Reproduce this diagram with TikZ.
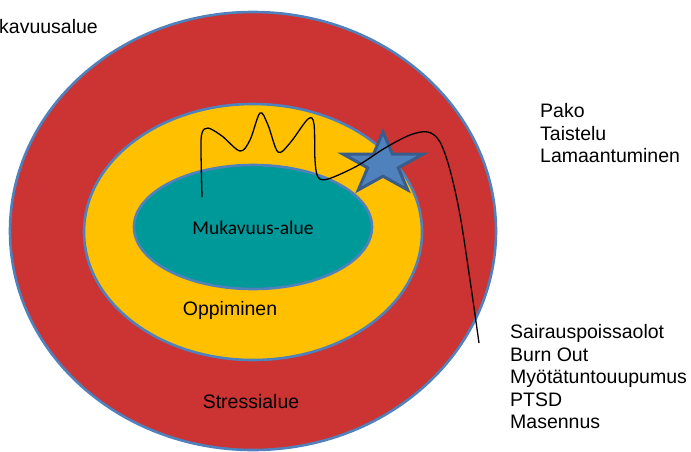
\documentclass[tikz,border=0pt]{standalone}
\usepackage{fontspec}
\setmainfont{Liberation Sans}
\newfontfamily\calibrifont{Carlito}
\usepackage{xcolor}
\usetikzlibrary{positioning}

\definecolor{zonered}{RGB}{204,51,51}
\definecolor{zoneyellow}{RGB}{255,192,0}
\definecolor{zoneteal}{RGB}{0,153,153}
\definecolor{zoneedge}{RGB}{79,129,189}
\definecolor{stardark}{RGB}{56,93,138}

\begin{document}
\begin{tikzpicture}[
    x=1pt, y=-1pt,
    zone/.style={draw=zoneedge, line width=2.6pt},
    lbl/.style={inner sep=0pt, font=\fontsize{19.5}{22.5}\selectfont},
    starshape/.style={fill=zoneedge, draw=stardark, line width=3pt, line join=miter},
    path/.style={black, line width=1.3pt}
]
\useasboundingbox (0,0) rectangle (691,451);

% zones
\draw[zone, fill=zonered] (253,231) ellipse [x radius=243, y radius=219];
\draw[zone, fill=zoneyellow] (253,232) ellipse [x radius=169, y radius=128];
\draw[zone, fill=zoneteal] (253,227) ellipse [x radius=119, y radius=62];

% star
\begin{scope}[shift={(383,164)}, x=42pt, y=32pt]
\draw[starshape] (90:1) -- (126:0.382) -- (162:1) -- (198:0.382) -- (234:1)
    -- (270:0.382) -- (306:1) -- (342:0.382) -- (18:1) -- (54:0.382) -- cycle;
\end{scope}

% learning path
\coordinate (start) at (202,197);
\coordinate (finish) at (479,343);
\draw[path] plot[smooth, tension=0.55] coordinates {(start) (201,150) (202,133) (208,128)
    (222,136) (240,151) (250,140) (260,113) (268,125) (278,152) (290,143) (308,119)
    (314,124) (315,160) (318,177) (328,179) (357,166) (385,148) (410,135) (428,132)
    (440,142) (450,170) (460,215) (470,280) (finish)};

% labels
\node[lbl, anchor=base west] (outer) at (-1,33.5) {kavuusalue};
\node[lbl, anchor=base, font=\fontsize{19.5}{22.5}\calibrifont] (comfort) at (253,234) {Mukavuus-alue};
\node[lbl, anchor=base] (learn) at (230,315) {Oppiminen};
\node[lbl, anchor=base] (stress) at (251,408) {Stressialue};

\foreach \t [count=\i from 0] in {Pako,Taistelu,Lamaantuminen}
    \node[lbl, anchor=base west] (react\i) at (540,117.5+22.6*\i) {\t};
\foreach \t [count=\i from 0] in {Sairauspoissaolot,Burn Out,Myötätuntouupumus,PTSD,Masennus}
    \node[lbl, anchor=base west] (cons\i) at (510,338.5+22.5*\i) {\t};
\end{tikzpicture}
\end{document}
